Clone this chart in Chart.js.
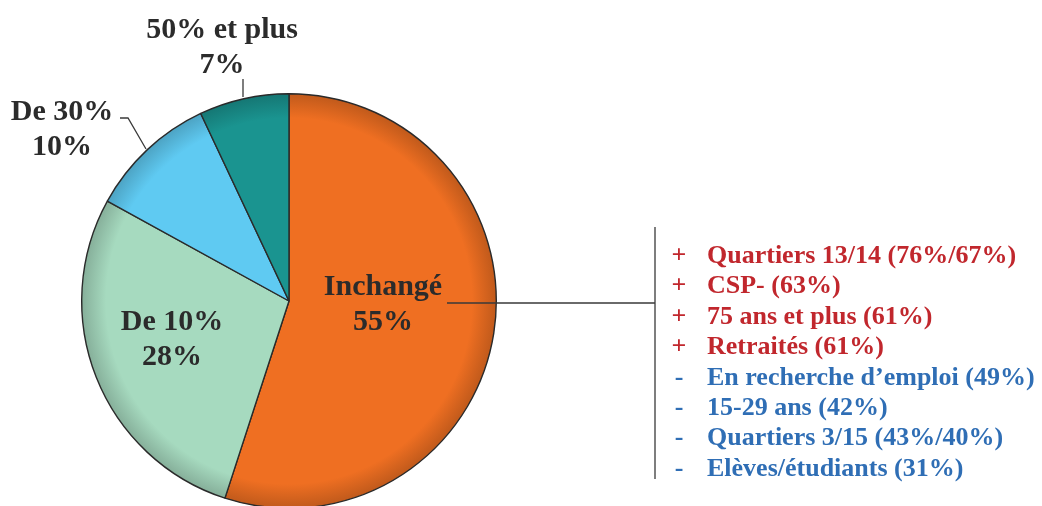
<!DOCTYPE html>
<html lang="fr">
<head>
<meta charset="utf-8">
<script src="https://cdn.jsdelivr.net/npm/chart.js@4"></script>
<style>
  html, body { margin: 0; padding: 0; background: #fff; overflow: hidden; }
  #wrap { position: absolute; left: 0; top: 0; width: 1042px; height: 520px; }
</style>
</head>
<body>
<div id="wrap"><canvas id="myChart"></canvas></div>
<script>
// données du camembert
const categories = ['Inchangé', 'De 10%', 'De 30%', '50% et plus'];
const valeurs = [55, 28, 10, 7];
const couleurs = ['#EF6F22', '#A6DABF', '#5FCAF2', '#1A9490'];

// liste à droite
const signes = ['+', '+', '+', '+', '-', '-', '-', '-'];
const textes = [
  'Quartiers 13/14 (76%/67%)',
  'CSP- (63%)',
  '75 ans et plus (61%)',
  'Retraités (61%)',
  'En recherche d\u2019emploi (49%)',
  '15-29 ans (42%)',
  'Quartiers 3/15 (43%/40%)',
  'Elèves/étudiants (31%)'
];

// position des étiquettes (décalage depuis le centre du camembert)
const posEtiquettes = [
  { dx: 94, dy: -6 },
  { dx: -117, dy: 29 },
  { dx: -227, dy: -181 },
  { dx: -67, dy: -263 }
];

const police = '"Liberation Serif", "Times New Roman", serif';

function assombrir(hex, f) {
  const n = parseInt(hex.slice(1), 16);
  const r = Math.round(((n >> 16) & 255) * f);
  const g = Math.round(((n >> 8) & 255) * f);
  const b = Math.round((n & 255) * f);
  return `rgb(${r},${g},${b})`;
}

// dégradé radial pour l'effet de relief sur le bord
function remplissage(context) {
  const chart = context.chart;
  const area = chart.chartArea;
  const base = couleurs[context.dataIndex];
  if (!area) return base;
  const cx = (area.left + area.right) / 2;
  const cy = (area.top + area.bottom) / 2;
  const r = Math.min(area.right - area.left, area.bottom - area.top) / 2;
  const g = chart.ctx.createRadialGradient(cx, cy, 0, cx, cy, r);
  g.addColorStop(0, base);
  g.addColorStop(0.88, base);
  g.addColorStop(1, assombrir(base, 0.8));
  return g;
}

const etiquettes = {
  id: 'etiquettes',
  afterDraw(chart) {
    const ctx = chart.ctx;
    const arcs = chart.getDatasetMeta(0).data;
    const cx = arcs[0].x;
    const cy = arcs[0].y;

    ctx.save();
    ctx.fillStyle = '#2b2b2b';
    ctx.font = `bold 30px ${police}`;
    ctx.textAlign = 'center';
    ctx.textBaseline = 'alphabetic';
    categories.forEach((cat, i) => {
      const p = posEtiquettes[i];
      ctx.fillText(cat, cx + p.dx, cy + p.dy);
      ctx.fillText(valeurs[i] + '%', cx + p.dx, cy + p.dy + 35);
    });

    // traits de rappel
    ctx.strokeStyle = '#3a3a3a';
    ctx.lineWidth = 1.3;
    ctx.beginPath();
    ctx.moveTo(cx + 158, cy + 2);
    ctx.lineTo(cx + 366, cy + 2);
    ctx.moveTo(cx + 366, cy - 74);
    ctx.lineTo(cx + 366, cy + 178);
    ctx.moveTo(cx - 169, cy - 183);
    ctx.lineTo(cx - 161, cy - 183);
    ctx.lineTo(cx - 143, cy - 152);
    ctx.moveTo(cx - 46, cy - 222);
    ctx.lineTo(cx - 46, cy - 204);
    ctx.stroke();

    // liste
    ctx.font = `bold 26px ${police}`;
    textes.forEach((t, i) => {
      const y = cy - 38 + i * 30.4;
      ctx.fillStyle = signes[i] === '+' ? '#C1272D' : '#2F6EB5';
      ctx.textAlign = 'center';
      ctx.fillText(signes[i], cx + 390, y);
      ctx.textAlign = 'left';
      ctx.fillText(t, cx + 418, y);
    });
    ctx.restore();
  }
};

const config = {
  type: 'pie',
  data: {
    labels: categories,
    datasets: [{
      data: valeurs,
      backgroundColor: remplissage,
      borderColor: '#2a2a2a',
      borderWidth: 1.4
    }]
  },
  options: {
    responsive: true,
    maintainAspectRatio: false,
    animation: false,
    layout: { padding: { top: 93, bottom: 11, left: 81, right: 545 } },
    plugins: {
      legend: { display: false },
      tooltip: { enabled: false }
    }
  },
  plugins: [etiquettes]
};

const chart = new Chart(document.getElementById('myChart'), config);
</script>
</body>
</html>
